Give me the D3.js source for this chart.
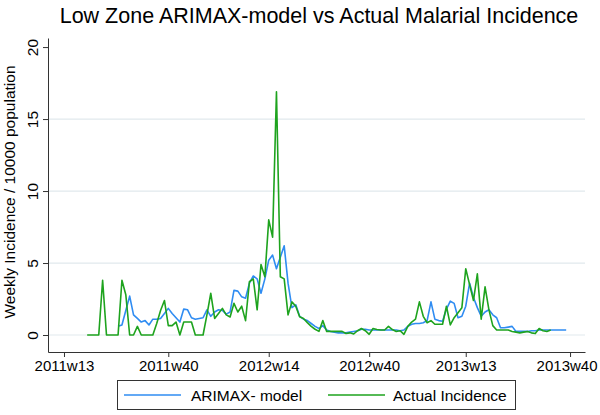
<!DOCTYPE html>
<html><head><meta charset="utf-8">
<script src="https://cdn.jsdelivr.net/npm/d3@7"></script>
<style>
body{margin:0;background:#fff}
svg{display:block}
text{font-family:"Liberation Sans",Arial,sans-serif;fill:#000}
</style>
</head><body>
<svg id="c" width="600" height="415"></svg>
<script>
// ---------- data ----------
const chartTitle = "Low Zone ARIMAX-model vs Actual Malarial Incidence";
const yTitle = "Weekly Incidence / 10000 population";
const seriesNames = ["ARIMAX- model", "Actual Incidence"];
// week index counted from 2011w13
const tickWeeks = [0, 27, 53, 79, 104, 131];
const tickLabels = ["2011w13", "2011w40", "2012w14", "2012w40", "2013w13", "2013w40"];
const yTicks = [0, 5, 10, 15, 20];

const modelStart = 14; // 2011w27
const modelValues = [
  0.6, 0.7, 1.7, 2.7, 1.4, 1.15, 0.9, 1.0, 0.7, 1.1,
  1.1, 1.15, 1.5, 1.85, 1.5, 1.2, 0.9, 1.8, 1.75, 1.2,
  1.1, 1.15, 1.2, 1.75, 1.3, 1.6, 1.75, 1.7, 1.45, 1.6,
  3.1, 3.05, 2.65, 2.55, 3.6, 4.1, 3.9, 2.9, 3.9, 5.2,
  5.55, 4.6, 5.4, 6.2, 3.6, 1.9, 2.1, 1.3, 1.1, 1.0,
  0.8, 0.6, 0.45, 0.65, 0.35, 0.25, 0.2, 0.15, 0.15, 0.15,
  0.2, 0.25, 0.3, 0.4, 0.4, 0.35, 0.35, 0.35, 0.35, 0.35,
  0.35, 0.35, 0.35, 0.3, 0.35, 0.6, 0.75, 0.8, 0.8, 0.85,
  1.0, 2.3, 1.1, 1.0, 0.95, 1.8, 2.35, 2.2, 1.2, 1.3,
  2.0, 3.6, 2.6, 1.9, 1.3, 1.6, 1.75, 1.4, 1.2, 0.5,
  0.5, 0.55, 0.6, 0.25, 0.25, 0.25, 0.25, 0.3, 0.3, 0.35,
  0.35, 0.35, 0.35, 0.35, 0.35, 0.35, 0.35
];

const actualStart = 6; // 2011w19
const actualValues = [
  0, 0, 0, 0, 3.8, 0, 0, 0, 0, 3.8,
  2.8, 0, 0, 0.6, 0, 0, 0, 0, 0.8, 1.7,
  2.4, 0.65, 0.65, 0.9, 0, 0.9, 0.9, 0.9, 0, 0,
  0, 1.4, 2.9, 1.15, 1.5, 1.85, 1.4, 1.25, 2.2, 1.6,
  2.0, 1.0, 3.7, 3.9, 1.75, 4.9, 4.05, 8.0, 6.8, 16.9,
  4.05, 3.9, 1.4, 2.3, 2.0, 1.27, 1.15, 0.86, 0.6, 0.4,
  0.25, 1.0, 0.25, 0.25, 0.25, 0.25, 0.25, 0.1, 0.15, 0.07,
  0.3, 0.45, 0.3, 0.05, 0.45, 0.38, 0.35, 0.35, 0.6, 0.38,
  0.25, 0.3, 0.05, 0.6, 0.9, 1.1, 2.3, 1.3, 0.85, 1.0,
  0.75, 0.75, 0.75, 2.0, 0.7, 1.2, 1.55, 1.9, 4.6, 3.5,
  2.4, 4.25, 1.1, 3.35, 1.75, 0.65, 0.35, 0.35, 0.35, 0.35,
  0.25, 0.2, 0.15, 0.2, 0.25, 0.15, 0.1, 0.45, 0.3, 0.25,
  0.35
];

const colors = ["#2f8cf2", "#1ea31e"];

// ---------- chart ----------
const svg = d3.select("#c");
const x = d3.scaleLinear().domain([-4.14, 134.87]).range([48, 585]);
const y = d3.scaleLinear().domain([-1.18, 20.63]).range([352, 38]);

// grid
svg.append("g").selectAll("line").data(yTicks.filter(v => v < 20)).join("line")
  .attr("x1", 49).attr("x2", 585)
  .attr("y1", d => y(d)).attr("y2", d => y(d))
  .attr("stroke", "#e1e9ed").attr("stroke-width", 1.2);

// lines
const modelData = modelValues.map((v, i) => [modelStart + i, v]);
const actualData = actualValues.map((v, i) => [actualStart + i, v]);
const line = d3.line().x(d => x(d[0])).y(d => y(d[1]));
svg.append("path").datum(modelData).attr("d", line)
  .attr("fill", "none").attr("stroke", colors[0]).attr("stroke-width", 1.6).attr("stroke-linejoin", "round");
svg.append("path").datum(actualData).attr("d", line)
  .attr("fill", "none").attr("stroke", colors[1]).attr("stroke-width", 1.6).attr("stroke-linejoin", "round");

// y axis
const yAxis = svg.append("g").attr("transform", "translate(48,0)")
  .call(d3.axisLeft(y).tickValues(yTicks).tickSize(5).tickSizeOuter(0));
yAxis.selectAll("path,line").attr("stroke", "#333");
yAxis.selectAll("text")
  .attr("transform", "rotate(-90)")
  .attr("x", 0).attr("y", -10).attr("dy", 0)
  .attr("text-anchor", "middle")
  .style("font-size", "15.5px").style("font-family", '"Liberation Sans",Arial,sans-serif');

// x axis
const xAxis = svg.append("g").attr("transform", "translate(0,352)")
  .call(d3.axisBottom(x).tickValues(tickWeeks).tickFormat((d, i) => tickLabels[i]).tickSize(5).tickPadding(3).tickSizeOuter(0));
xAxis.selectAll("path,line").attr("stroke", "#333");
xAxis.selectAll("text").style("font-size", "15px").style("font-family", '"Liberation Sans",Arial,sans-serif');
// keep the last label inside the picture
xAxis.selectAll("text").each(function (d) {
  const w = this.getComputedTextLength();
  const right = x(d) + w / 2;
  if (right > 597) d3.select(this).attr("x", 597 - right);
});

// titles
svg.append("text").attr("x", 319).attr("y", 23).attr("text-anchor", "middle")
  .style("font-size", "21.5px").text(chartTitle);
svg.append("text").attr("transform", "translate(15,192) rotate(-90)").attr("text-anchor", "middle")
  .style("font-size", "15.5px").text(yTitle);

// legend
const lg = svg.append("g");
lg.append("rect").attr("x", 117.5).attr("y", 380.5).attr("width", 398).attr("height", 29)
  .attr("fill", "#fff").attr("stroke", "#333").attr("stroke-width", 1);
const items = [{x1: 124, x2: 181, tx: 191}, {x1: 328, x2: 385, tx: 393}];
items.forEach((it, i) => {
  lg.append("line").attr("x1", it.x1).attr("x2", it.x2).attr("y1", 395).attr("y2", 395)
    .attr("stroke", colors[i]).attr("stroke-width", 1.6);
  lg.append("text").attr("x", it.tx).attr("y", 400.5).style("font-size", "15.5px").text(seriesNames[i]);
});
</script>
</body></html>
